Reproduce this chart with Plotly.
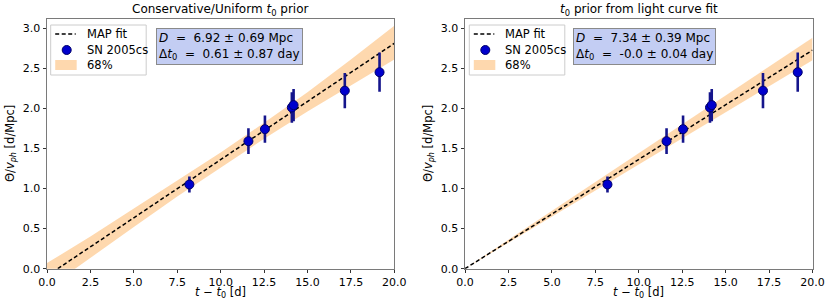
import plotly.graph_objects as go

W, H = 831, 306

# ---- data ----
t_days = [8.2, 11.6, 12.55, 14.1, 14.2, 17.15, 19.15]
theta_v = [1.05, 1.59, 1.74, 2.01, 2.04, 2.22, 2.45]
theta_err = [0.10, 0.16, 0.17, 0.19, 0.20, 0.22, 0.245]

# left panel (conservative / uniform t0 prior)
map_x = [0.0, 20.0]
map_y_left = [-0.09, 2.81]
band_x_left = [0.0, 2.5, 5.0, 7.5, 10.0, 12.5, 15.0, 17.5, 20.0]
band_up_left = [0.07, 0.40, 0.75, 1.10, 1.45, 1.82, 2.20, 2.61, 3.03]
band_lo_left = [-0.25, 0.14, 0.52, 0.90, 1.26, 1.62, 1.96, 2.28, 2.61]

# right panel (t0 prior from light curve fit)
map_y_right = [0.0, 2.725]
band_x_right = [0.0, 20.0]
band_up_right = [0.0, 2.88]
band_lo_right = [0.0, 2.60]

legend_names = ["MAP fit", "SN 2005cs", "68%"]
titles = ["Conservative/Uniform <i>t</i><sub>0</sub> prior",
          "<i>t</i><sub>0</sub> prior from light curve fit"]
boxes = ["<i>D</i>  =  6.92 ± 0.69 Mpc<br>Δ<i>t</i><sub>0</sub>  =  0.61 ± 0.87 day",
         "<i>D</i>  =  7.34 ± 0.39 Mpc<br>Δ<i>t</i><sub>0</sub>  =  -0.0 ± 0.04 day"]
x_ticks = [0, 2.5, 5, 7.5, 10, 12.5, 15, 17.5, 20]
x_ticklabels = ["0.0", "2.5", "5.0", "7.5", "10.0", "12.5", "15.0", "17.5", "20.0"]
y_ticks = [0, 0.5, 1.0, 1.5, 2.0, 2.5, 3.0]
y_ticklabels = ["0.0", "0.5", "1.0", "1.5", "2.0", "2.5", "3.0"]

FONT = "DejaVu Sans"
BAND = "rgba(253,190,120,0.6)"
BOXBG = "#c3cdf3"
MARK = "#0000cd"
MARK_EDGE = "#00006a"

# ---- layout geometry (pixels) ----
px_left = [(47, 394.3), (465, 812.5)]
py_bot, py_top = 268.7, 19.3
ydom = [(H - py_bot) / H, (H - py_top) / H]


def px(x):
    return x / W


def py(y):
    return (H - y) / H


fig = go.Figure()

panels = [
    (map_y_left, band_x_left, band_up_left, band_lo_left),
    (map_y_right, band_x_right, band_up_right, band_lo_right),
]

for i, (my, bx, bu, bl) in enumerate(panels):
    xa = "x" if i == 0 else "x2"
    ya = "y" if i == 0 else "y2"
    fig.add_trace(go.Scatter(x=bx, y=bl, mode="lines", line=dict(width=0, color=BAND),
                             showlegend=False, hoverinfo="skip", xaxis=xa, yaxis=ya))
    fig.add_trace(go.Scatter(x=bx, y=bu, mode="lines", line=dict(width=0, color=BAND),
                             fill="tonexty", fillcolor=BAND, name=legend_names[2],
                             showlegend=False, xaxis=xa, yaxis=ya))
    fig.add_trace(go.Scatter(x=map_x, y=my, mode="lines",
                             line=dict(color="black", width=1.5, dash="4px,2.5px"),
                             name=legend_names[0], showlegend=False, xaxis=xa, yaxis=ya))
    fig.add_trace(go.Scatter(x=t_days, y=theta_v, mode="markers",
                             marker=dict(size=9, color=MARK, line=dict(color=MARK_EDGE, width=1)),
                             error_y=dict(type="data", array=theta_err, color="#15158c",
                                          thickness=2.6, width=0),
                             name=legend_names[1], showlegend=False, xaxis=xa, yaxis=ya))

axis_common = dict(showgrid=False, zeroline=False, showline=True, mirror=True,
                   linecolor="#7a7a7a", linewidth=1, ticks="outside", ticklen=3.5,
                   tickwidth=0.8, tickcolor="#333", automargin=False,
                   tickfont=dict(family=FONT, size=11, color="black"))

for i in range(2):
    x0, x1 = px_left[i]
    sfx = "" if i == 0 else "2"
    fig.layout["xaxis" + sfx] = dict(axis_common, domain=[x0 / W, x1 / W], range=[0, 20],
                                     tickvals=x_ticks, ticktext=x_ticklabels,
                                     anchor="y" + sfx)
    fig.layout["yaxis" + sfx] = dict(axis_common, domain=ydom, range=[0, 3.11],
                                     tickvals=y_ticks, ticktext=y_ticklabels,
                                     anchor="x" + sfx)
    cx = (x0 + x1) / 2 / W
    # title
    fig.add_annotation(text=titles[i], x=cx, y=py(10), xref="paper", yref="paper",
                       showarrow=False, xanchor="center", yanchor="middle",
                       font=dict(family=FONT, size=12, color="black"))
    # x label
    fig.add_annotation(text="<i>t</i> − <i>t</i><sub>0</sub> [d]", x=cx, y=py(292),
                       xref="paper", yref="paper", showarrow=False,
                       xanchor="center", yanchor="middle",
                       font=dict(family=FONT, size=11.5, color="black"))
    # y label
    fig.add_annotation(text="Θ/<i>v</i><sub><i>ph</i></sub> [d/Mpc]",
                       x=px(x0 - 37), y=py(144), xref="paper", yref="paper",
                       showarrow=False, textangle=-90, xanchor="center", yanchor="middle",
                       font=dict(family=FONT, size=11.5, color="black"))

# text boxes
box_left_px = [155.7, 573.3]
for i in range(2):
    fig.add_annotation(text=boxes[i], x=px(box_left_px[i]), y=py(28.3),
                       xref="paper", yref="paper", showarrow=False,
                       xanchor="left", yanchor="top", align="left",
                       bgcolor=BOXBG, bordercolor="#8a8a8a", borderwidth=1, borderpad=2,
                       font=dict(family=FONT, size=12, color="black"))

# hand-drawn legends (matplotlib-style compact legend)
legend_left_px = [50.7, 469.3]
for i in range(2):
    L = legend_left_px[i]
    fig.add_shape(type="rect", xref="paper", yref="paper",
                  x0=px(L), x1=px(L + 95.5), y0=py(75), y1=py(25),
                  fillcolor="white", line=dict(color="#cccccc", width=1), layer="above")
    # MAP fit
    fig.add_shape(type="line", xref="paper", yref="paper",
                  x0=px(L + 4.5), x1=px(L + 25), y0=py(34), y1=py(34),
                  line=dict(color="black", width=1.5, dash="4px,2.5px"), layer="above")
    # SN 2005cs
    fig.add_shape(type="circle", xref="paper", yref="paper",
                  x0=px(L + 11.5), x1=px(L + 20.5), y0=py(54.5), y1=py(45.5),
                  fillcolor=MARK, line=dict(color=MARK_EDGE, width=1), layer="above")
    # 68%
    fig.add_shape(type="rect", xref="paper", yref="paper",
                  x0=px(L + 4.5), x1=px(L + 26), y0=py(70), y1=py(60),
                  fillcolor=BAND, line=dict(width=0), layer="above")
    for name, yy in zip(legend_names, [34, 50, 65]):
        fig.add_annotation(text=name, x=px(L + 34), y=py(yy), xref="paper", yref="paper",
                           showarrow=False, xanchor="left", yanchor="middle",
                           font=dict(family=FONT, size=11.5, color="black"))

fig.update_layout(
    width=W, height=H,
    margin=dict(l=0, r=0, t=0, b=0),
    paper_bgcolor="white", plot_bgcolor="white",
    showlegend=False,
)

fig.write_html("out.html", config={"displayModeBar": False},
               post_script="document.body.style.margin='0';document.body.style.padding='0';"
                           "document.documentElement.style.overflow='hidden';")
